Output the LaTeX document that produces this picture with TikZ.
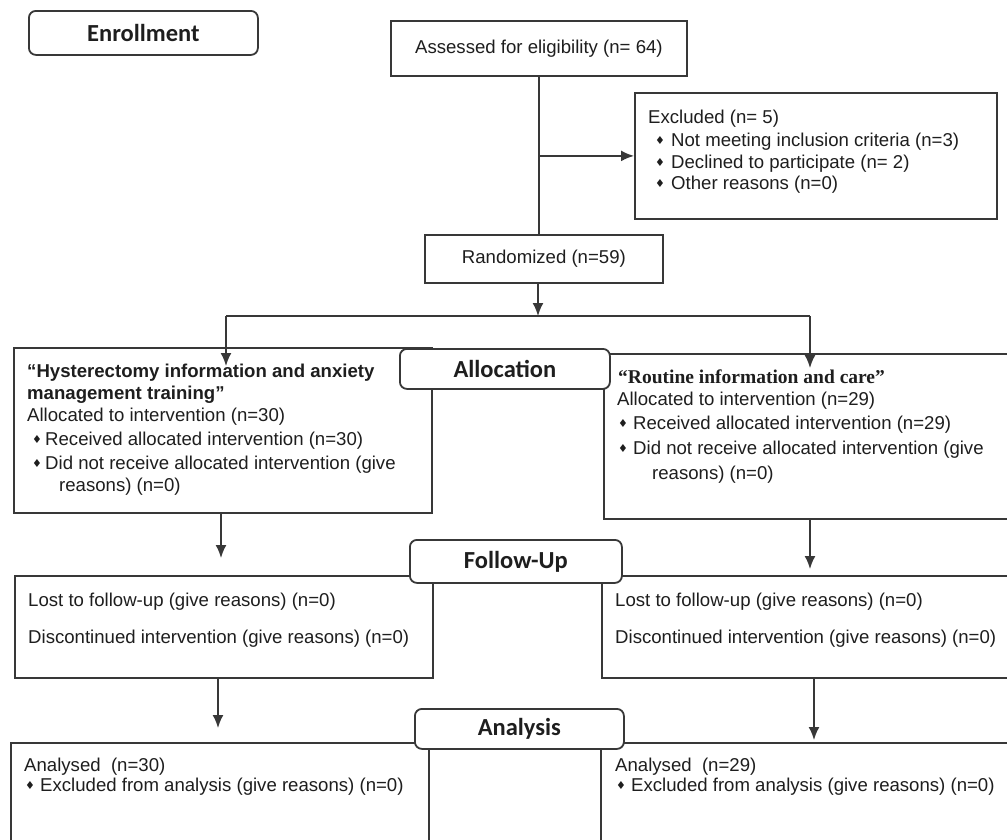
\documentclass[tikz,border=0pt]{standalone}
\usepackage{fontspec}
\setmainfont{Liberation Sans}
\newfontfamily\labfont{Carlito}
\newfontfamily\rserif{Liberation Serif}
\newfontfamily\symfont{DejaVu Sans}
\usetikzlibrary{arrows.meta}
\definecolor{ln}{HTML}{383838}
\definecolor{tx}{HTML}{1E1E1E}
\begin{document}
\begin{tikzpicture}[x=1pt,y=-1pt,
  box/.style={draw=ln, line width=1.8pt, rectangle, inner sep=0pt, anchor=north west},
  lab/.style={draw=ln, line width=1.8pt, rounded corners=7pt, fill=white, inner sep=0pt, anchor=north west, font=\labfont\bfseries\fontsize{24.5}{28}\selectfont, text=tx},
  txt/.style={anchor=base west, inner sep=0pt, font=\fontsize{18.6}{22}\selectfont, text=tx},
  btxt/.style={anchor=base west, inner sep=0pt, font=\bfseries\fontsize{18.6}{22}\selectfont, text=tx},
  stxt/.style={anchor=base west, inner sep=0pt, font=\rserif\bfseries\fontsize{19.5}{22}\selectfont, text=tx},
  bul/.style={anchor=base west, inner sep=0pt, font=\symfont\fontsize{11}{12}\selectfont, text=tx},
  conn/.style={draw=ln, line width=1.8pt},
  arr/.style={conn, -{Latex[length=13pt,width=11pt]}}
]
\fill[white] (0,0) rectangle (1007,839);
\useasboundingbox (0,0) rectangle (1007,839);

% enrollment
\node[lab, minimum width=229pt, minimum height=44pt] (enroll) at (28,10) {Enrollment};

% assessed
\node[box, minimum width=296pt, minimum height=55pt, font=\fontsize{18.6}{22}\selectfont, text=tx] (assessed) at (390,20) {Assessed for eligibility (n= 64)};

% excluded
\node[box, minimum width=362pt, minimum height=126pt] (excluded) at (634,92) {};
\node[txt] (ex0) at (648,123.5) {Excluded (n= 5)};
\node[bul] (exb1) at (655,144) {♦};
\node[txt] (ex1) at (671,146.5) {Not meeting inclusion criteria (n=3)};
\node[bul] (exb2) at (655,166) {♦};
\node[txt] (ex2) at (671,168.5) {Declined to participate (n= 2)};
\node[bul] (exb3) at (655,187) {♦};
\node[txt] (ex3) at (671,189.5) {Other reasons (n=0)};

% randomized
\node[box, minimum width=238pt, minimum height=48pt, font=\fontsize{18.6}{22}\selectfont, text=tx] (randomized) at (424,234) {Randomized (n=59)};

% allocation boxes
\node[box, minimum width=418pt, minimum height=165pt] (leftalloc) at (13,347) {};
\node[box, minimum width=412pt, minimum height=165pt] (rightalloc) at (603,353) {};

\node[btxt] (l1) at (27,377.5) {“Hysterectomy information and anxiety};
\node[btxt] (l2) at (27,399.5) {management training”};
\node[txt] (l3) at (27,421.5) {Allocated to intervention (n=30)};
\node[bul] (lb4) at (32,443) {♦};
\node[txt] (l4) at (45,445.5) {Received allocated intervention (n=30)};
\node[bul] (lb5) at (32,467) {♦};
\node[txt] (l5) at (45,469.5) {Did not receive allocated intervention (give};
\node[txt] (l6) at (59,491.5) {reasons) (n=0)};

\node[stxt] (r1) at (618,383.5) {“Routine information and care”};
\node[txt] (r2) at (617,405.5) {Allocated to intervention (n=29)};
\node[bul] (rb3) at (618,427) {♦};
\node[txt] (r3) at (633,429.5) {Received allocated intervention (n=29)};
\node[bul] (rb4) at (618,452) {♦};
\node[txt] (r4) at (633,454.5) {Did not receive allocated intervention (give};
\node[txt] (r5) at (652,479.5) {reasons) (n=0)};

% follow-up boxes
\node[box, minimum width=418pt, minimum height=102pt] (leftfu) at (14,575) {};
\node[box, minimum width=414pt, minimum height=102pt] (rightfu) at (601,575) {};
\node[txt] (f1) at (28,606.5) {Lost to follow-up (give reasons) (n=0)};
\node[txt] (f2) at (28,643) {Discontinued intervention (give reasons) (n=0)};
\node[txt] (f3) at (615,606.5) {Lost to follow-up (give reasons) (n=0)};
\node[txt] (f4) at (615,643) {Discontinued intervention (give reasons) (n=0)};

% analysis boxes
\node[box, minimum width=418pt, minimum height=120pt] (leftan) at (10,742) {};
\node[box, minimum width=415pt, minimum height=120pt] (rightan) at (600,742) {};
\node[txt] (a1) at (24,771) {Analysed\ \ (n=30)};
\node[bul] (ab2) at (25,789) {♦};
\node[txt] (a2) at (40,791.5) {Excluded from analysis (give reasons) (n=0)};
\node[txt] (a3) at (615,771) {Analysed\ \ (n=29)};
\node[bul] (ab4) at (616,789) {♦};
\node[txt] (a4) at (631,791.5) {Excluded from analysis (give reasons) (n=0)};

% connectors
\draw[conn] (assessed.south) -- (assessed.south |- randomized.north);
\coordinate (exc) at (assessed.south |- excluded.west);
\draw[arr] (exc) -- (excluded.west);
\coordinate (split) at (538,316);
\draw[arr] (randomized.south -| split) -- (split);
\coordinate (bl) at (226,316);
\coordinate (br) at (810,316);
\draw[conn] (bl) -- (br);
\draw[draw=ln, line width=2.6pt] (466,316) -- (569,316);
\coordinate (blt) at (226,366);
\coordinate (brt) at (810,368);
\draw[arr] (bl) -- (blt);
\draw[arr] (br) -- (brt);

\coordinate (fl) at (221,558);
\coordinate (fr) at (810,569);
\draw[arr] (leftalloc.south -| fl) -- (fl);
\draw[arr] (rightalloc.south -| fr) -- (fr);

\coordinate (al) at (218,728);
\coordinate (ar) at (814,740);
\draw[arr] (leftfu.south -| al) -- (al);
\draw[arr] (rightfu.south -| ar) -- (ar);

% section labels on top
\node[lab, minimum width=210pt, minimum height=40pt] (allocation) at (399,348) {Allocation};
\node[lab, minimum width=212pt, minimum height=43pt] (followup) at (409,539) {Follow-Up};
\node[lab, minimum width=209pt, minimum height=40pt] (analysis) at (414,708) {Analysis};
\end{tikzpicture}
\end{document}
